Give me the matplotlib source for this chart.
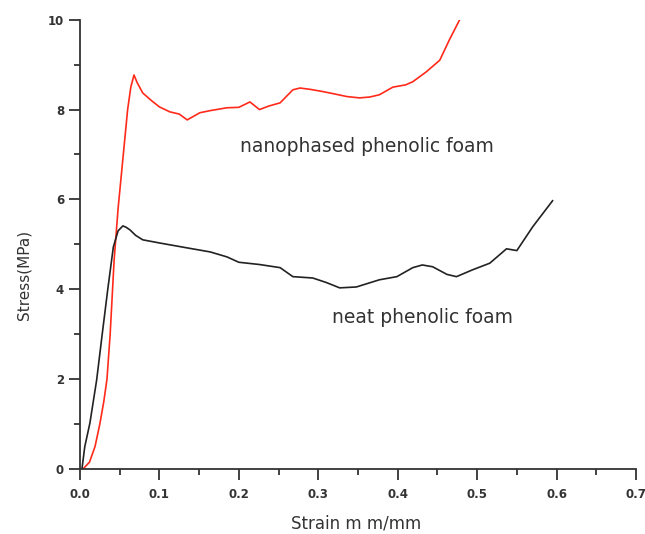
import matplotlib.pyplot as plt
import numpy as np

# nanophased phenolic foam
nano_strain = [0.004, 0.012, 0.019, 0.025, 0.030, 0.034, 0.038, 0.043, 0.048, 0.054,
               0.060, 0.064, 0.068, 0.072, 0.079, 0.090, 0.100, 0.113, 0.125, 0.135,
               0.143, 0.151, 0.165, 0.185, 0.200, 0.214, 0.226, 0.238, 0.252, 0.268,
               0.277, 0.290, 0.306, 0.320, 0.336, 0.352, 0.365, 0.377, 0.394, 0.410,
               0.419, 0.436, 0.453, 0.465, 0.478]
nano_stress = [0.0, 0.15, 0.5, 1.0, 1.5, 2.0, 3.0, 4.65, 5.8, 6.9,
               8.0, 8.5, 8.77, 8.6, 8.37, 8.2, 8.06, 7.95, 7.9, 7.77,
               7.85, 7.93, 7.98, 8.04, 8.05, 8.17, 8.0, 8.08, 8.15, 8.44,
               8.48, 8.45, 8.40, 8.35, 8.29, 8.26, 8.28, 8.33, 8.50, 8.55,
               8.62, 8.84, 9.10, 9.55, 10.0]

# neat phenolic foam
neat_strain = [0.0025, 0.006, 0.0125, 0.021, 0.028, 0.035, 0.042, 0.048, 0.054, 0.058,
               0.063, 0.070, 0.079, 0.100, 0.135, 0.164, 0.185, 0.200, 0.226, 0.252,
               0.268, 0.293, 0.310, 0.327, 0.348, 0.377, 0.399, 0.419, 0.431, 0.444,
               0.462, 0.474, 0.494, 0.516, 0.537, 0.550, 0.570, 0.595]
neat_stress = [0.0, 0.49, 1.02, 1.98, 3.0, 4.0, 4.94, 5.3, 5.41, 5.38,
               5.32, 5.2, 5.1, 5.03, 4.92, 4.83, 4.72, 4.6, 4.55, 4.48,
               4.28, 4.25, 4.15, 4.03, 4.05, 4.21, 4.28, 4.48, 4.54, 4.5,
               4.33, 4.28, 4.43, 4.58, 4.9, 4.86, 5.39, 5.97]

fig = plt.figure(figsize=(6.45, 5.34), dpi=100)
ax = fig.add_axes([0.124, 0.122, 0.862, 0.841])

ax.plot(nano_strain, nano_stress, color="#ff2a1a", lw=1.2)
ax.plot(neat_strain, neat_stress, color="#222222", lw=1.2)

ax.text(0.201, 7.17, "nanophased phenolic foam", fontsize=13.5, color="#333333", va="center")
ax.text(0.317, 3.36, "neat phenolic foam", fontsize=13.5, color="#333333", va="center")

ax.set_xlim(0, 0.7)
ax.set_ylim(0, 10)
ax.set_xticks(np.arange(0, 0.71, 0.1))
ax.set_xticklabels([f"{v:.1f}" for v in np.arange(0, 0.71, 0.1)])
ax.set_xticks(np.arange(0.05, 0.7, 0.1), minor=True)
ax.set_yticks([0, 2, 4, 6, 8, 10])
ax.set_yticks([1, 3, 5, 7, 9], minor=True)

for s in ["top", "right"]:
    ax.spines[s].set_visible(False)
for s in ["left", "bottom"]:
    ax.spines[s].set_linewidth(1.3)
    ax.spines[s].set_color("#333333")

ax.tick_params(which="major", direction="out", length=8, width=1.3, color="#333333",
               labelsize=8.5, labelcolor="#333333")
ax.tick_params(axis="x", which="major", pad=6)
ax.tick_params(which="minor", direction="out", length=4, width=1.3, color="#333333")
for lab in ax.get_xticklabels() + ax.get_yticklabels():
    lab.set_fontweight("bold")

ax.set_xlabel("Strain m m/mm", fontsize=12, color="#333333")
ax.set_ylabel("Stress(MPa)", fontsize=11, color="#333333")
ax.xaxis.set_label_coords(0.496, -0.102)
ax.yaxis.set_label_coords(-0.088, 0.432)

fig.savefig("out.png", dpi=100)
